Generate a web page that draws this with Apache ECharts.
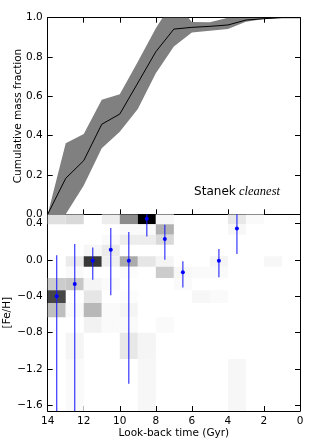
<!DOCTYPE html>
<html><head><meta charset="utf-8">
<script src="https://cdn.jsdelivr.net/npm/echarts@6/dist/echarts.min.js"></script>
<style>html,body{margin:0;padding:0;background:#fff}#c{width:316px;height:443px}</style>
</head><body><div id="c"></div>
<script>
// ---- Top panel: cumulative mass fraction ----
const ages = [14, 13, 12, 11, 10, 9, 8, 7, 6, 5, 4, 3, 2, 1, 0];
const cumMass  = [0, 0.183, 0.273, 0.458, 0.51, 0.668, 0.827, 0.942, 0.951, 0.956, 0.963, 0.988, 0.995, 1.0, 1.0];
const cumLower = [0, 0, 0.146, 0.336, 0.42, 0.536, 0.717, 0.853, 0.925, 0.934, 0.942, 0.98, 0.993, 1.0, 1.0];
const cumUpper = [0, 0.361, 0.408, 0.583, 0.61, 0.776, 0.946, 1.09, 0.978, 0.977, 1.0, 1.0, 1.0, 1.0, 1.0];
const topYTicks = [0, 0.2, 0.4, 0.6, 0.8, 1.0];
const ageTicks = [14, 12, 10, 8, 6, 4, 2, 0];

// ---- Bottom panel: age-metallicity density + points ----
const ageBinEdges = [14, 13, 12, 11, 10, 9, 8, 7, 6, 5, 4, 3, 2, 1, 0];
const fehBinEdges = [0.5, 0.39, 0.275, 0.165, 0.04, -0.075, -0.2, -0.335, -0.475, -0.63, -0.8, -1.09, -1.66];
// rows: top (high [Fe/H]) to bottom; columns: 14-13 Gyr ... 1-0 Gyr
const density = [
  [0.12, 0.15, 0,    0.07, 0.45, 1.0,  0.03, 0,    0,    0,    0.09, 0.02, 0,    0],
  [0,    0,    0,    0,    0.02, 0.02, 0.31, 0,    0,    0,    0.03, 0,    0,    0],
  [0,    0,    0,    0.02, 0.07, 0.07, 0.15, 0,    0,    0,    0,    0,    0,    0],
  [0,    0,    0.03, 0.08, 0,    0,    0,    0,    0,    0,    0,    0,    0,    0],
  [0,    0.08, 0.78, 0.06, 0.33, 0.10, 0.04, 0,    0,    0.04, 0,    0,    0.03, 0],
  [0,    0.02, 0,    0,    0.01, 0,    0.20, 0.03, 0.02, 0.02, 0,    0,    0,    0],
  [0.20, 0.22, 0.04, 0.02, 0,    0,    0,    0.02, 0,    0,    0,    0,    0,    0],
  [0.72, 0,    0.10, 0,    0.01, 0,    0,    0,    0.03, 0.02, 0,    0,    0,    0],
  [0.25, 0.02, 0.28, 0.02, 0.04, 0,    0,    0,    0,    0,    0,    0,    0,    0],
  [0,    0,    0.05, 0.02, 0.02, 0,    0.02, 0,    0,    0,    0,    0,    0,    0],
  [0,    0.04, 0,    0,    0.09, 0.04, 0,    0,    0,    0,    0,    0,    0,    0],
  [0,    0.02, 0,    0,    0,    0.03, 0,    0,    0,    0,    0.03, 0,    0,    0]
];
const ptAge = [13.5, 12.5, 11.5, 10.5, 9.5, 8.5, 7.5, 6.5, 4.5, 3.5];
const ptFeh = [-0.40, -0.265, -0.01, 0.11, -0.01, 0.45, 0.23, -0.135, -0.01, 0.345];
const ptHi  = [0.05, 0.175, 0.135, 0.35, 0.305, 0.65, 0.385, -0.015, 0.12, 0.63];
const ptLo  = [-1.9, -1.9, -0.22, -0.39, -1.36, 0.255, 0.0, -0.305, -0.19, 0.065];
const fehTicks = [0.4, 0.0, -0.4, -0.8, -1.2, -1.6];

const cells = [];
density.forEach((row, r) => row.forEach((v, c) => {
  if (v > 0) cells.push([ageBinEdges[c], ageBinEdges[c + 1], fehBinEdges[r], fehBinEdges[r + 1], v]);
}));
const pts = ptAge.map((a, i) => [a, ptFeh[i], ptLo[i], ptHi[i]]);
const lineData = ages.map((a, i) => [a, cumMass[i]]);
const bandData = [[ages[0], cumLower[0]]];

const FONT = 'DejaVu Sans';
const axLine = { show: true, onZero: false, lineStyle: { color: '#000', width: 1 } };
const tick = { show: true, inside: true, length: 5, lineStyle: { color: '#000', width: 1 } };
const lbl = { color: '#000', fontSize: 10.5, fontFamily: FONT };
const nameStyle = { color: '#000', fontSize: 10.5, fontFamily: FONT };
const fmtFeh = v => (v < -1e-9 ? '\u2212' : '') + Math.abs(v).toFixed(1);

const chart = echarts.init(document.getElementById('c'), null, { renderer: 'canvas' });
chart.setOption({
  animation: false,
  backgroundColor: '#fff',
  textStyle: { fontFamily: FONT },
  grid: [
    { left: 47.7, right: 16, top: 17.7, height: 196.6, outerBoundsMode: 'none', containLabel: false },
    { left: 47.7, right: 16, top: 214.3, height: 196.7, outerBoundsMode: 'none', containLabel: false }
  ],
  xAxis: [
    { gridIndex: 0, type: 'value', min: 0, max: 14, interval: 2, inverse: true, position: 'bottom',
      axisLine: axLine, axisTick: tick, axisLabel: { show: false }, splitLine: { show: false } },
    { gridIndex: 0, type: 'value', min: 0, max: 14, interval: 2, inverse: true, position: 'top',
      axisLine: axLine, axisTick: tick, axisLabel: { show: false }, splitLine: { show: false } },
    { gridIndex: 1, type: 'value', min: 0, max: 14, interval: 2, inverse: true, position: 'bottom',
      axisLine: axLine, axisTick: tick, splitLine: { show: false },
      axisLabel: Object.assign({ margin: 5, customValues: ageTicks, formatter: v => String(v) }, lbl),
      name: 'Look-back time (Gyr)', nameLocation: 'middle', nameGap: 17, nameMoveOverlap: false,
      nameTextStyle: nameStyle }
  ],
  yAxis: [
    { gridIndex: 0, type: 'value', min: 0, max: 1, interval: 0.2, position: 'left',
      axisLine: axLine, axisTick: tick, splitLine: { show: false },
      axisLabel: Object.assign({ margin: 5, formatter: v => v.toFixed(1) }, lbl),
      name: 'Cumulative mass fraction', nameLocation: 'middle', nameRotate: 90, nameGap: 24,
      nameMoveOverlap: false, nameTextStyle: nameStyle },
    { gridIndex: 0, type: 'value', min: 0, max: 1, interval: 0.2, position: 'right',
      axisLine: axLine, axisTick: tick, axisLabel: { show: false }, splitLine: { show: false } },
    { gridIndex: 1, type: 'value', min: -1.66, max: 0.5, position: 'left',
      axisLine: axLine, axisTick: Object.assign({ customValues: fehTicks }, tick), splitLine: { show: false },
      axisLabel: Object.assign({ margin: 5, customValues: fehTicks, formatter: fmtFeh }, lbl),
      name: '[Fe/H]', nameLocation: 'middle', nameRotate: 90, nameGap: 35,
      nameMoveOverlap: false, nameTextStyle: nameStyle },
    { gridIndex: 1, type: 'value', min: -1.66, max: 0.5, position: 'right',
      axisLine: axLine, axisTick: Object.assign({ customValues: fehTicks }, tick),
      axisLabel: { show: false }, splitLine: { show: false } }
  ],
  series: [
    { type: 'custom', xAxisIndex: 0, yAxisIndex: 0, data: bandData, clip: true, z: 1, silent: true,
      renderItem: (params, api) => {
        const upper = ages.map((a, i) => api.coord([a, cumUpper[i]]));
        const lower = ages.map((a, i) => api.coord([a, cumLower[i]])).reverse();
        return { type: 'polygon', shape: { points: upper.concat(lower) },
                 style: { fill: '#808080', stroke: null } };
      } },
    { type: 'line', xAxisIndex: 0, yAxisIndex: 0, data: lineData, symbol: 'none',
      lineStyle: { color: '#000', width: 1 }, clip: true, z: 3 },
    { type: 'custom', xAxisIndex: 2, yAxisIndex: 2, data: cells, clip: true, z: 1, silent: true,
      renderItem: (params, api) => {
        const p0 = api.coord([api.value(0), api.value(2)]);
        const p1 = api.coord([api.value(1), api.value(3)]);
        const g = Math.round(255 * (1 - api.value(4)));
        return { type: 'rect',
          shape: { x: Math.min(p0[0], p1[0]), y: Math.min(p0[1], p1[1]),
                   width: Math.abs(p1[0] - p0[0]), height: Math.abs(p1[1] - p0[1]) },
          style: { fill: 'rgb(' + g + ',' + g + ',' + g + ')' } };
      } },
    { type: 'custom', xAxisIndex: 2, yAxisIndex: 2, data: pts, clip: true, z: 5, silent: true,
      renderItem: (params, api) => {
        const c = api.coord([api.value(0), api.value(1)]);
        const lo = api.coord([api.value(0), api.value(2)]);
        const hi = api.coord([api.value(0), api.value(3)]);
        return { type: 'group', children: [
          { type: 'line', shape: { x1: c[0], y1: lo[1], x2: c[0], y2: hi[1] },
            style: { stroke: 'rgba(20,20,255,0.85)', lineWidth: 1.2 } },
          { type: 'circle', shape: { cx: c[0], cy: c[1], r: 2 }, style: { fill: '#0000ff' } }
        ] };
      } }
  ],
  graphic: [
    { type: 'text', x: 280, y: 192, z: 10,
      style: { text: '{a|Stanek} {b|cleanest}', align: 'right', verticalAlign: 'middle',
        rich: { a: { fontFamily: FONT, fontSize: 12, fill: '#000' },
                b: { fontFamily: 'Liberation Serif', fontStyle: 'italic', fontSize: 12.5, fill: '#000' } } } }
  ]
});
</script>
</body></html>
